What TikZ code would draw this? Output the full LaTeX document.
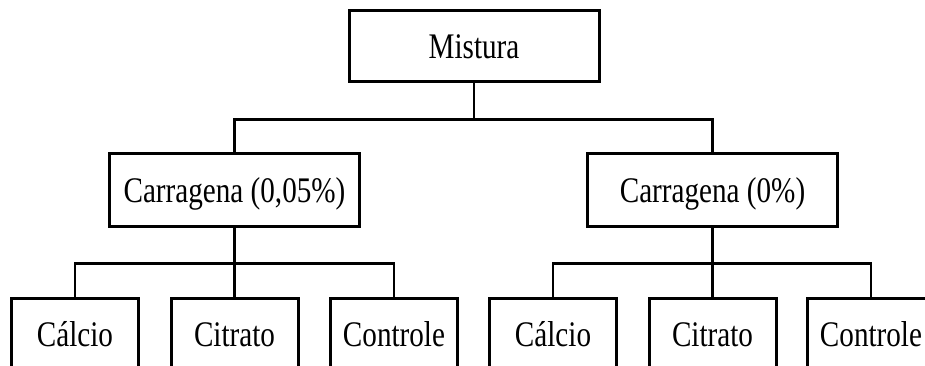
\documentclass[tikz,border=0pt]{standalone}
\usepackage{fontspec}
\setmainfont{Liberation Serif}[FakeStretch=0.81]

\begin{document}
\begin{tikzpicture}[x=1pt,y=-1pt,
    caixa/.style={draw,line width=3pt,inner sep=0pt,minimum height=72pt,
        text height=24pt,text depth=0pt,font=\fontsize{36}{40}\selectfont},
    larga/.style={caixa,minimum width=250pt},
    estreita/.style={caixa,minimum width=127pt},
    liga/.style={line width=2.6pt}]
        \useasboundingbox (0,0) rectangle (925,366);
        % topo
        \node[larga,minimum height=71pt] (mistura) at (474,46.5) {Mistura};
        \node[larga] (carA) at (234.5,190) {Carragena (0,05\%)};
        \node[larga] (carB) at (712.5,190) {Carragena (0\%)};
        % folhas
        \node[estreita] (calcioA) at (75,334) {Cálcio};
        \node[estreita] (citratoA) at (234.5,334) {Citrato};
        \node[estreita] (controleA) at (394,334) {Controle};
        \node[estreita] (calcioB) at (553,334) {Cálcio};
        \node[estreita] (citratoB) at (712.5,334) {Citrato};
        \node[estreita] (controleB) at (871,334) {Controle};
        % ligacoes
        \draw[liga] (mistura.south) -- ++(0,36) -| (carA.north);
        \draw[liga] (mistura.south) -- ++(0,36) -| (carB.north);
        \draw[liga] (carA.south) -- ++(0,36) -| (calcioA.north);
        \draw[liga] (carA.south) -- (citratoA.north);
        \draw[liga] (carA.south) -- ++(0,36) -| (controleA.north);
        \draw[liga] (carB.south) -- ++(0,36) -| (calcioB.north);
        \draw[liga] (carB.south) -- (citratoB.north);
        \draw[liga] (carB.south) -- ++(0,36) -| (controleB.north);
    \end{tikzpicture}
\end{document}
